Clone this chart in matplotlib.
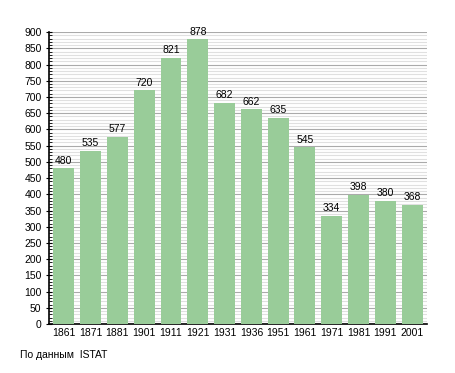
import numpy as np
import matplotlib
matplotlib.use('Agg')
import matplotlib.pyplot as plt
from matplotlib.ticker import MultipleLocator

plt.rcParams['font.family'] = ['Liberation Sans', 'DejaVu Sans']

years = ['1861', '1871', '1881', '1901', '1911', '1921', '1931', '1936',
         '1951', '1961', '1971', '1981', '1991', '2001']
pop = [480, 535, 577, 720, 821, 878, 682, 662, 635, 545, 334, 398, 380, 368]

fig = plt.figure(figsize=(4.55, 3.73), dpi=100)
ax = fig.add_axes([0.108, 0.131, 0.83, 0.783])

x = np.arange(len(years))
ax.bar(x, pop, width=0.78, color='#99cc99', zorder=3)
for xi, v in zip(x, pop):
    ax.text(xi, v + 8, str(v), ha='center', va='bottom', fontsize=7.5, zorder=4)

ax.set_xlim(-0.55, len(years) - 0.45)
ax.set_ylim(0, 900)
ax.yaxis.set_major_locator(MultipleLocator(50))
ax.yaxis.set_minor_locator(MultipleLocator(10))
ax.grid(axis='y', which='major', color='#aaaaaa', linewidth=0.8, zorder=0)
ax.grid(axis='y', which='minor', color='#e0e0e0', linewidth=0.8, zorder=0)
ax.set_xticks(x)
ax.set_xticklabels(years)
ax.tick_params(axis='x', length=0, labelsize=7.5, pad=3)
ax.tick_params(axis='y', which='major', length=5, labelsize=7.5, direction='inout', pad=3)
ax.tick_params(axis='y', which='minor', length=2, direction='in')
for s in ['top', 'right']:
    ax.spines[s].set_visible(False)
ax.spines['left'].set_linewidth(1.2)
ax.spines['bottom'].set_linewidth(1.2)

fig.text(0.045, 0.04, 'По данным  ISTAT', fontsize=7.5)

fig.savefig('out.png', dpi=100)
